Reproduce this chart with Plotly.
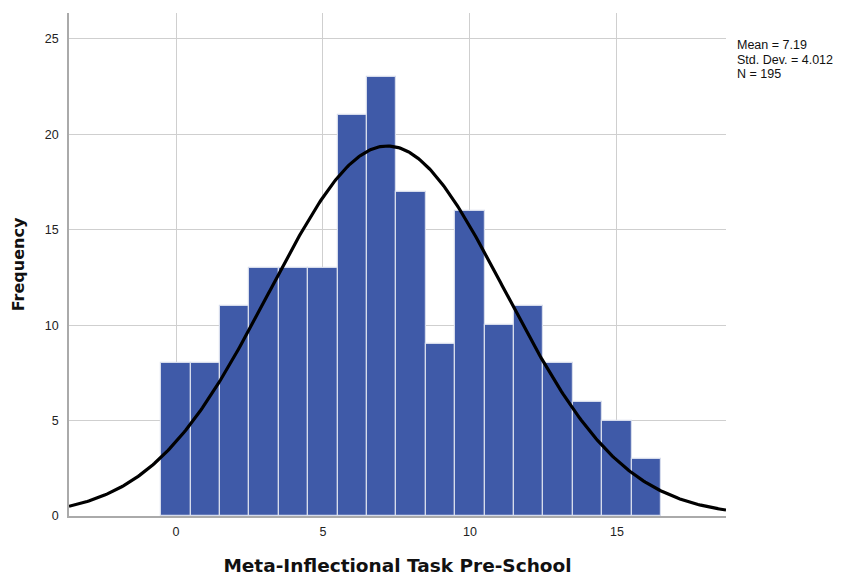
import numpy as np
import plotly.graph_objects as go

# Scores and their counts
scores = [0, 1, 2, 3, 4, 5, 6, 7, 8, 9, 10, 11, 12, 13, 14, 15, 16]
counts = [8, 8, 11, 13, 13, 13, 21, 23, 17, 9, 16, 10, 11, 8, 6, 5, 3]

mean = 7.19
std_dev = 4.012
n_total = 195

x_tick_vals = [0, 5, 10, 15]
y_tick_vals = [0, 5, 10, 15, 20, 25]

x_range = [-3.64, 18.71]
y_range = [0, 26.36]

# Normal curve scaled to counts (bin width 1)
xc = np.linspace(x_range[0], x_range[1], 400)
yc = n_total * 1.0 / (std_dev * np.sqrt(2 * np.pi)) * np.exp(-0.5 * ((xc - mean) / std_dev) ** 2)

fig = go.Figure()
fig.add_trace(go.Bar(
    x=scores, y=counts, width=1.0,
    marker=dict(color="#3F5AA8", line=dict(color="#D6DCEC", width=1.2)),
    hoverinfo="x+y",
))
fig.add_trace(go.Scatter(
    x=xc, y=yc, mode="lines",
    line=dict(color="black", width=3.2),
    hoverinfo="skip",
))

grid = "#CFCFCF"
tick_font = dict(family="Liberation Sans, Arial, sans-serif", size=12.5, color="#222222")

W, H = 849, 576
M_L, M_R, M_T, M_B = 69, 123, 13, 60
plot_h = H - M_T - M_B

# Statistics block to the right of the plot, one line per annotation
stat_lines = [f"Mean = {mean}", f"Std. Dev. = {std_dev}", f"N = {n_total}"]
stat_centers_px = [45.5, 59.5, 73.5]
annotations = []
for txt, ypx in zip(stat_lines, stat_centers_px):
    annotations.append(dict(
        xref="paper", yref="paper", x=1.015, y=(H - M_B - ypx) / plot_h,
        xanchor="left", yanchor="middle", align="left", showarrow=False,
        text=txt, borderpad=0,
        font=dict(family="Liberation Sans, Arial, sans-serif", size=12.5, color="#111111"),
    ))

fig.update_layout(
    width=W, height=H,
    margin=dict(l=M_L, r=M_R, t=M_T, b=M_B),
    paper_bgcolor="white", plot_bgcolor="white",
    showlegend=False,
    bargap=0,
    xaxis=dict(
        range=x_range, tickvals=x_tick_vals, ticks="",
        showgrid=True, gridcolor=grid, gridwidth=1,
        showline=True, linecolor="#AAAAAA", linewidth=1.5,
        zeroline=False, tickfont=tick_font, ticklabelstandoff=3,
        automargin=False,
        title=dict(text="<b>Meta-Inflectional Task Pre-School</b>",
                   font=dict(family="DejaVu Sans, sans-serif", size=18.5, color="#111111"),
                   standoff=21),
    ),
    yaxis=dict(
        range=y_range, tickvals=y_tick_vals, ticks="",
        showgrid=True, gridcolor=grid, gridwidth=1,
        showline=True, linecolor="#AAAAAA", linewidth=1.5,
        zeroline=False, tickfont=tick_font, ticklabelstandoff=6,
        automargin=False,
        title=dict(text="<b>Frequency</b>",
                   font=dict(family="DejaVu Sans, sans-serif", size=16, color="#111111"),
                   standoff=16),
    ),
    annotations=annotations,
)

fig.write_html("out.html")
